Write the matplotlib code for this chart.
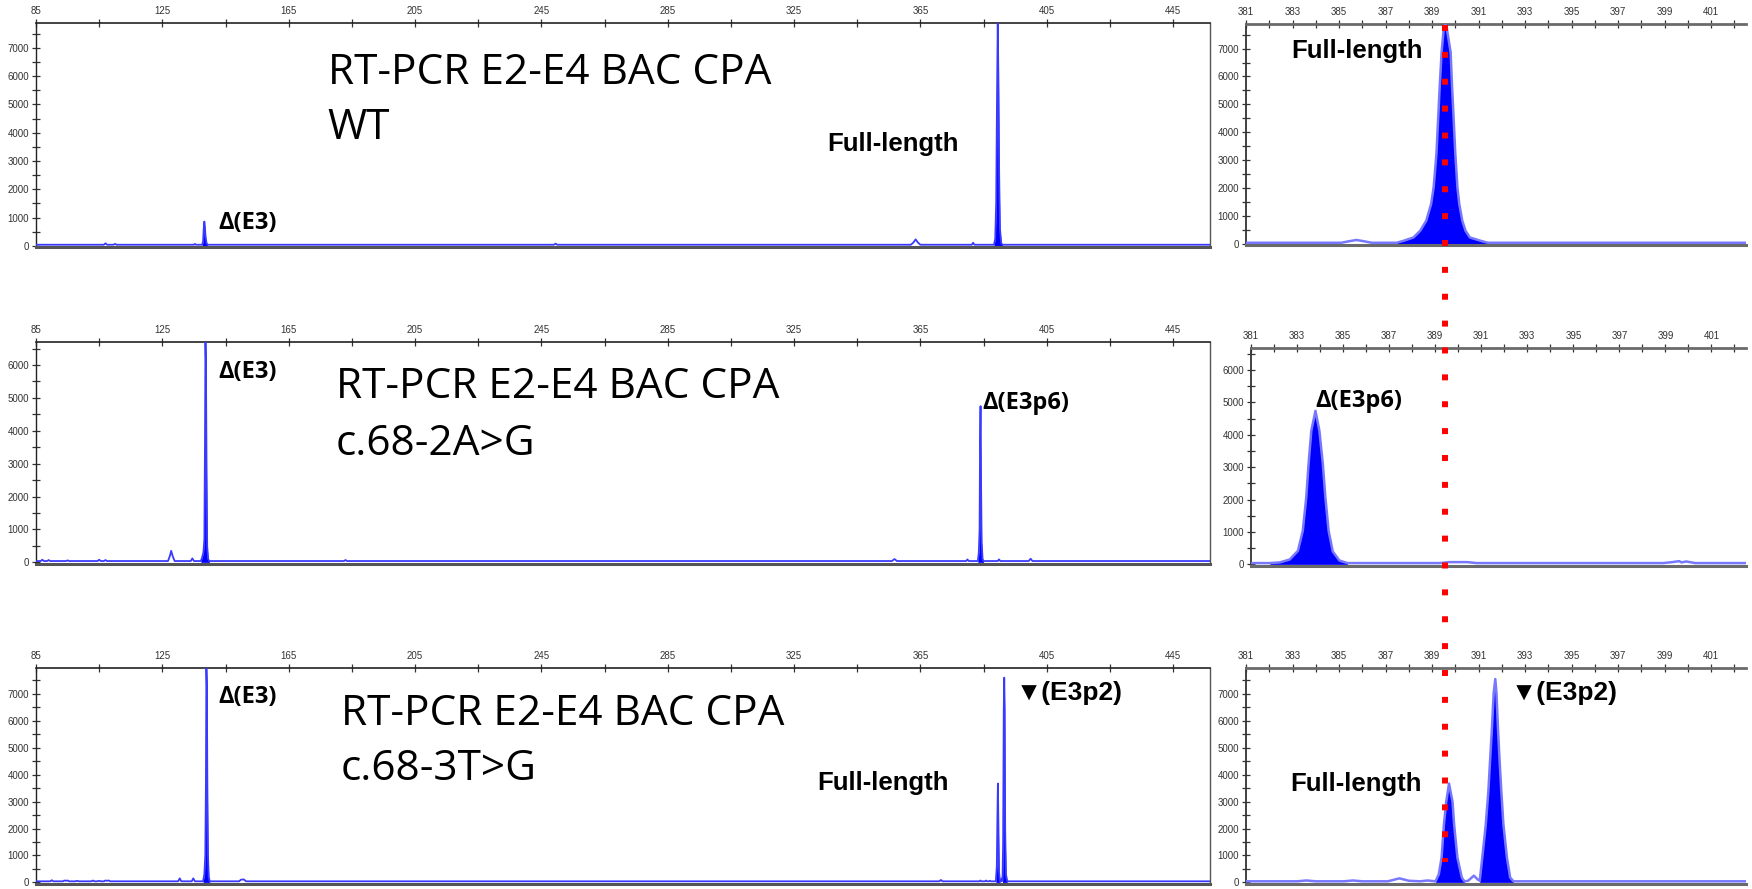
import matplotlib

matplotlib.use("Agg")

import matplotlib.pyplot as plt
from matplotlib.lines import Line2D
from matplotlib.ticker import FixedLocator, MultipleLocator

W, H = 1752, 889

# electropherogram traces: fragment size (bp) and signal (RFU)
wt_size = [85, 106.5, 107, 107.5, 109.5, 110, 110.5, 135, 135.3, 135.6, 137.6, 137.9, 138.1, 138.3,
           138.5, 138.7, 139.0, 139.3, 249, 249.5, 250, 362.0, 362.8, 363.5, 364.2, 365.0, 381.3,
           381.7, 382.1, 388.3, 388.7, 389.0, 389.25, 389.5, 389.75, 389.95, 390.2, 390.6, 391.0, 456.7]
wt_rfu = [40, 40, 90, 40, 40, 70, 40, 40, 70, 40, 40, 150, 600, 860,
          620, 300, 100, 40, 40, 80, 40, 40, 120, 230, 120, 40, 40,
          110, 40, 40, 250, 1500, 5000, 7900, 5500, 2500, 600, 100, 40, 40]

wt_zoom_size = [381, 385.1, 385.4, 385.75, 386.1, 386.4, 387.48, 387.77, 388.2, 388.49, 388.75, 388.96,
                389.07, 389.19, 389.26, 389.33, 389.41, 389.5, 389.57, 389.64, 389.8, 389.86, 389.93,
                390.0, 390.09, 390.17, 390.3, 390.44, 390.63, 391.09, 391.4, 402.5]
wt_zoom_rfu = [40, 40, 90, 140, 90, 40, 40, 110, 230, 470, 830, 1430,
               2040, 3240, 4450, 5650, 6860, 7700, 7900, 7700, 6860, 5650, 4450,
               3240, 2040, 1430, 830, 470, 230, 110, 40, 40]

a2g_size = [85, 86.5, 87, 87.5, 88.5, 89, 89.5, 94.5, 95, 95.5, 104.5, 105, 105.5, 106.5, 107, 107.5,
            126.8, 127.4, 127.8, 128.3, 128.9, 134.0, 134.5, 135.0, 137.2, 137.6, 138.0, 138.3,
            138.5, 138.65, 138.8, 139.0, 139.2, 139.5, 139.9, 182.5, 183, 183.5, 356.0, 356.8,
            357.6, 379.5, 379.9, 380.3, 383.2, 383.5, 383.75, 383.9, 384.05, 384.2, 384.4, 384.7,
            385.0, 389.5, 389.9, 390.3, 399.3, 399.9, 400.5, 456.7]
a2g_rfu = [40, 40, 80, 40, 40, 70, 40, 40, 60, 40, 40, 80, 40, 40, 70, 40,
           40, 200, 350, 180, 40, 40, 120, 40, 40, 150, 300, 700,
           3600, 6750, 6100, 2800, 500, 100, 40, 40, 70, 40, 40, 100,
           40, 40, 90, 40, 40, 300, 1000, 3700, 4750, 2600, 600, 100,
           40, 40, 90, 40, 40, 110, 40, 40]

a2g_zoom_size = [381, 381.82, 382.25, 382.68, 383.04, 383.25, 383.4, 383.5, 383.62, 383.8, 383.97,
                 384.12, 384.23, 384.37, 384.55, 384.84, 385.19, 389.2, 389.6, 390.4, 390.8, 398.9,
                 399.3, 399.6, 399.7, 399.9, 400.3, 402.5]
a2g_zoom_rfu = [40, 40, 60, 150, 420, 1040, 2070, 3100, 4130, 4740, 4130,
                3100, 2070, 1040, 400, 120, 40, 40, 70, 70, 40, 40,
                70, 100, 60, 90, 40, 40]

t3g_size = [85, 89.5, 90, 90.5, 93.5, 94, 94.5, 95, 95.5, 97.5, 98, 98.5, 102.5, 103, 103.5, 104.5,
            105, 105.5, 106.5, 107, 107.5, 108, 108.5, 130.0, 130.5, 131.0, 134.3, 134.8, 135.3,
            137.9, 138.3, 138.6, 138.8, 138.95, 139.1, 139.25, 139.45, 139.7, 140.0, 149.3, 149.9,
            150.8, 151.5, 371.0, 371.5, 372.0, 383.7, 384.0, 384.3, 385.5, 385.8, 386.1, 386.7,
            387.0, 387.3, 388.9, 389.2, 389.4, 389.55, 389.7, 389.9, 390.2, 390.6, 390.8, 391.0,
            391.2, 391.4, 391.55, 391.7, 391.85, 392.1, 392.5, 456.7]
t3g_rfu = [40, 40, 80, 40, 40, 70, 60, 70, 40, 40, 60, 40, 40, 70, 40, 40,
           60, 40, 40, 70, 60, 70, 40, 40, 150, 40, 40, 150, 40,
           40, 300, 1000, 3700, 8000, 7300, 3700, 1000, 200, 40, 40, 100,
           110, 40, 40, 90, 40, 40, 70, 40, 40, 70, 40, 40,
           60, 40, 40, 600, 2500, 3670, 2200, 400, 40, 40, 150, 60,
           1500, 6400, 7600, 6400, 2000, 300, 40, 40]

t3g_zoom_size = [381, 383.2, 383.6, 384.0, 385.2, 385.6, 386.0, 387.1, 387.6, 388.0, 388.5, 388.8,
                 389.15, 389.29, 389.41, 389.51, 389.61, 389.73, 389.88, 389.95, 390.09, 390.28,
                 390.39, 390.55, 390.8, 390.95, 391.05, 391.16, 391.31, 391.42, 391.5, 391.58,
                 391.65, 391.72, 391.77, 391.83, 391.9, 391.98, 392.07, 392.22, 392.36, 392.5, 402.5]
t3g_zoom_rfu = [40, 40, 70, 40, 40, 70, 40, 40, 150, 60, 40, 70,
                40, 300, 920, 2140, 3000, 3670, 3000, 2140, 920, 180,
                40, 60, 250, 120, 60, 920, 2140, 3370, 4590, 5810,
                7030, 7550, 7030, 5810, 4590, 3370, 2140, 920, 180, 40, 40]

# called peaks (filled), as size ranges
wt_peaks = [(137.6, 139.3), (388.3, 391.0)]
wt_zoom_peaks = [(387.4, 391.5)]
a2g_peaks = [(137.2, 139.9), (383.2, 385.0)]
a2g_zoom_peaks = [(381.8, 385.2)]
t3g_peaks = [(137.9, 140.0), (388.9, 390.3), (391.0, 392.5)]
t3g_zoom_peaks = [(389.1, 390.4), (391.0, 392.5)]

title_lines = ["RT-PCR E2-E4 BAC CPA", "WT", "c.68-2A>G", "c.68-3T>G"]
full_xlim = (85, 456.7)
zoom_xlim = (381, 402.5)
red_line_size = 389.55

TICK_FONT = ["Liberation Sans Narrow", "Liberation Sans", "DejaVu Sans"]
TITLE_FONT = ["Open Sans", "DejaVu Sans"]
LABEL_FONT = ["Liberation Sans", "DejaVu Sans"]

fig = plt.figure(figsize=(W / 100, H / 100), dpi=100)


def px_axes(left, top, right, bottom):
    return fig.add_axes([left / W, 1 - bottom / H, (right - left) / W, (bottom - top) / H])


def style_axes(ax, zoomed, ylim):
    ax.set_xlim(*(zoom_xlim if zoomed else full_xlim))
    ax.set_ylim(*ylim)
    ax.xaxis.tick_top()
    if zoomed:
        ax.xaxis.set_major_locator(FixedLocator(range(381, 402, 2)))
        ax.xaxis.set_minor_locator(FixedLocator(range(382, 403, 2)))
    else:
        ax.xaxis.set_major_locator(FixedLocator(range(85, 456, 40)))
        ax.xaxis.set_minor_locator(FixedLocator(range(105, 456, 40)))
    ax.yaxis.set_major_locator(MultipleLocator(1000))
    ax.yaxis.set_minor_locator(MultipleLocator(500))
    ax.tick_params(which="both", direction="inout", length=6, width=0.9, color="#333333",
                   labelsize=7, labelcolor="#333333", pad=2)
    for lab in ax.get_xticklabels() + ax.get_yticklabels():
        lab.set_family(TICK_FONT)
    if zoomed:
        ax.spines["top"].set(linewidth=2, color="#6a6a6a")
        ax.spines["left"].set(linewidth=1.3, color="#333333")
        ax.spines["right"].set_visible(False)
        ax.spines["bottom"].set(linewidth=2.2, color="#6a6a6a")
    else:
        ax.spines["top"].set(linewidth=1.2, color="#222222")
        ax.spines["left"].set(linewidth=1.0, color="#222222")
        ax.spines["right"].set(linewidth=1.0, color="#555555")
        ax.spines["bottom"].set(linewidth=2.2, color="#555555")


def draw_trace(ax, size, rfu, peaks, zoomed):
    for lo, hi in peaks:
        xs = [s for s in size if lo <= s <= hi]
        ys = [r for s, r in zip(size, rfu) if lo <= s <= hi]
        ax.fill_between(xs, 0, ys, color="#0000ff", linewidth=0, zorder=2)
    if zoomed:
        ax.plot(size, rfu, color="#7878ff", linewidth=1.8, zorder=3)
    else:
        ax.plot(size, rfu, color="#3a3aff", linewidth=1.3, zorder=3)


panels = [
    # (left, top, right, bottom, zoomed, ylim, size, rfu, peaks)
    (36, 23, 1210, 247, False, (-40, 7880), wt_size, wt_rfu, wt_peaks),
    (1246, 24, 1746, 245, True, (-40, 7880), wt_zoom_size, wt_zoom_rfu, wt_zoom_peaks),
    (36, 342, 1210, 564, False, (-50, 6700), a2g_size, a2g_rfu, a2g_peaks),
    (1251, 348, 1746, 566, True, (-50, 6680), a2g_zoom_size, a2g_zoom_rfu, a2g_zoom_peaks),
    (36, 668, 1210, 884, False, (-60, 7960), t3g_size, t3g_rfu, t3g_peaks),
    (1246, 668, 1746, 884, True, (-60, 7960), t3g_zoom_size, t3g_zoom_rfu, t3g_zoom_peaks),
]
axes = []
for left, top, right, bottom, zoomed, ylim, size, rfu, peaks in panels:
    ax = px_axes(left, top, right, bottom)
    style_axes(ax, zoomed, ylim)
    draw_trace(ax, size, rfu, peaks, zoomed)
    axes.append(ax)

ax_wt, ax_wt_z, ax_a2g, ax_a2g_z, ax_t3g, ax_t3g_z = axes

title_kw = dict(fontsize=30.5, family=TITLE_FONT, va="center", ha="left", color="black")
ax_wt.text(177.4, 6100, title_lines[0], **title_kw)
ax_wt.text(177.4, 4150, title_lines[1], **title_kw)
ax_a2g.text(180, 5320, title_lines[0], **title_kw)
ax_a2g.text(180, 3600, title_lines[2], **title_kw)
ax_t3g.text(181.5, 6250, title_lines[0], **title_kw)
ax_t3g.text(181.5, 4200, title_lines[3], **title_kw)

fl_kw = dict(fontsize=18.5, family=LABEL_FONT, fontweight="bold", va="center", ha="left")
delta_kw = dict(fontsize=17, family=TITLE_FONT, fontweight="bold", va="center", ha="left")
tri_kw = dict(fontsize=19, family=LABEL_FONT, fontweight="bold", va="center", ha="left")

ax_wt.text(335.6, 3600, "Full-length", **fl_kw)
ax_wt.text(142.6, 800, "Δ(E3)", **delta_kw)
ax_wt_z.text(382.94, 6920, "Full-length", **fl_kw)

ax_a2g.text(142.6, 5780, "Δ(E3)", **delta_kw)
ax_a2g.text(384.6, 4850, "Δ(E3p6)", **delta_kw)
ax_a2g_z.text(383.8, 5030, "Δ(E3p6)", **delta_kw)

ax_t3g.text(142.6, 6880, "Δ(E3)", **delta_kw)
ax_t3g.text(332.3, 3700, "Full-length", **fl_kw)
ax_t3g.text(395.3, 7050, "▼(E3p2)", **tri_kw)
ax_t3g_z.text(382.9, 3670, "Full-length", **fl_kw)
ax_t3g_z.text(392.4, 7040, "▼(E3p2)", **tri_kw)

# red dotted guide through the full-length peak, spanning the three zoom panels
x_fig = ax_wt_z.transData.transform((red_line_size, 0))[0] / fig.bbox.width
fig.add_artist(Line2D([x_fig, x_fig], [1 - 25 / H, 1 - 862 / H], transform=fig.transFigure,
                      color="#ff0000", linewidth=4.3, linestyle=(0, (1, 3.5)),
                      dash_capstyle="butt", zorder=10))

fig.savefig("out.png", dpi=100, facecolor="white")
